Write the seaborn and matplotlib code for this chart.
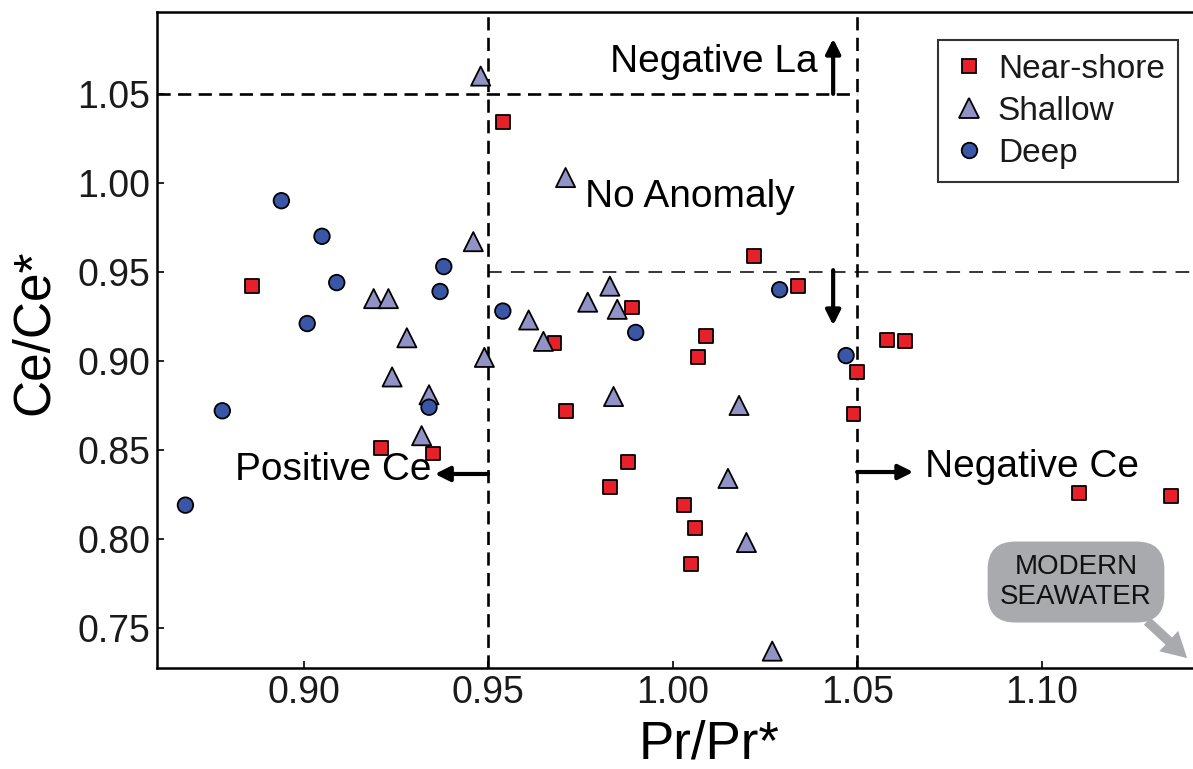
import pandas as pd
import matplotlib.pyplot as plt
import seaborn as sns

# Pr/Pr* and Ce/Ce*
near_x = [0.954, 0.886, 1.022, 1.034, 0.989, 1.009, 0.968, 1.058, 1.063, 1.007, 1.050,
          0.971, 1.049, 0.988, 0.983, 1.003, 1.006, 1.005, 0.921, 0.935, 1.110, 1.135]
near_y = [1.034, 0.942, 0.959, 0.942, 0.930, 0.914, 0.910, 0.912, 0.911, 0.902, 0.894,
          0.872, 0.870, 0.843, 0.829, 0.819, 0.806, 0.786, 0.851, 0.848, 0.826, 0.824]

shallow_x = [0.948, 0.946, 0.919, 0.923, 0.961, 0.928, 0.965, 0.971, 0.983, 0.977,
             0.985, 0.984, 1.018, 1.015, 1.020, 1.027, 0.949, 0.924, 0.934, 0.932]
shallow_y = [1.060, 0.967, 0.935, 0.935, 0.923, 0.913, 0.911, 1.003, 0.942, 0.933,
             0.929, 0.880, 0.875, 0.834, 0.798, 0.737, 0.902, 0.891, 0.881, 0.858]

deep_x = [0.894, 0.905, 0.938, 0.909, 0.937, 0.901, 0.954, 1.029, 0.990, 1.047,
          0.934, 0.878, 0.868]
deep_y = [0.990, 0.970, 0.953, 0.944, 0.939, 0.921, 0.928, 0.940, 0.916, 0.903,
          0.874, 0.872, 0.819]

groups = ['Near-shore', 'Shallow', 'Deep']

df = pd.concat([
    pd.DataFrame({'pr': near_x, 'ce': near_y, 'group': 'Near-shore'}),
    pd.DataFrame({'pr': shallow_x, 'ce': shallow_y, 'group': 'Shallow'}),
    pd.DataFrame({'pr': deep_x, 'ce': deep_y, 'group': 'Deep'}),
])

sns.set_theme(style='white')
plt.rcParams['font.family'] = ['Liberation Sans', 'DejaVu Sans']
plt.rcParams['text.color'] = 'black'
plt.rcParams['axes.labelcolor'] = 'black'

fig = plt.figure(figsize=(11.93, 7.69), dpi=100)
ax = fig.add_axes([0.1316, 0.1313, 0.8684, 0.8531])

palette = {'Near-shore': '#e8202a', 'Shallow': '#9292c6', 'Deep': '#3a57a7'}
markers = {'Near-shore': 's', 'Shallow': '^', 'Deep': 'o'}
sizes = {'Near-shore': 100, 'Shallow': 190, 'Deep': 125}

sns.scatterplot(data=df, x='pr', y='ce', hue='group', style='group', size='group',
                hue_order=groups, style_order=groups, size_order=groups,
                palette=palette, markers=markers, sizes=sizes,
                edgecolor='black', linewidth=1.3, ax=ax, zorder=3)

x0, x1 = 0.8603, 1.141
y0, y1 = 0.7275, 1.096
ax.set_xlim(x0, x1)
ax.set_ylim(y0, y1)

# anomaly boundaries
dash = dict(color='black', lw=1.9, linestyle=(0, (5, 2.8)), zorder=1)
ax.vlines([0.95, 1.05], y0, y1, **dash)
ax.hlines(1.05, x0, 1.05, **dash)
ax.hlines(0.95, 0.95, x1, color='black', lw=1.1, linestyle=(0, (9, 6)), zorder=1)

arrow = dict(arrowstyle='-|>', lw=3, color='black', mutation_scale=22, shrinkA=0, shrinkB=0)
ax.annotate('', xy=(1.0435, 1.081), xytext=(1.0435, 1.050), arrowprops=arrow)
ax.annotate('', xy=(1.0435, 0.920), xytext=(1.0435, 0.951), arrowprops=arrow)
ax.annotate('', xy=(0.9356, 0.8365), xytext=(0.950, 0.8365), arrowprops=arrow)
ax.annotate('', xy=(1.0652, 0.8376), xytext=(1.050, 0.8376), arrowprops=arrow)

ax.text(1.0394, 1.068, 'Negative La', fontsize=28, ha='right', va='center')
ax.text(0.9763, 0.992, 'No Anomaly', fontsize=28, ha='left', va='center')
ax.text(0.9348, 0.8388, 'Positive Ce', fontsize=28, ha='right', va='center')
ax.text(1.0684, 0.8404, 'Negative Ce', fontsize=28, ha='left', va='center')

ax.annotate('MODERN\nSEAWATER', xy=(1.1394, 0.7331), xytext=(1.1093, 0.7758),
            ha='center', va='center', fontsize=20, linespacing=1.2, color='#111111',
            bbox=dict(boxstyle='round,pad=0.45,rounding_size=1.0', fc='#a8aaad', ec='none'),
            arrowprops=dict(arrowstyle='simple,head_length=0.9,head_width=1.0,tail_width=0.35',
                            fc='#a8aaad', ec='none', relpos=(0.85, 0.1), shrinkA=0, shrinkB=0))

ax.set_xticks([0.90, 0.95, 1.00, 1.05, 1.10])
ax.set_yticks([0.75, 0.80, 0.85, 0.90, 0.95, 1.00, 1.05])
ax.set_xticklabels(['0.90', '0.95', '1.00', '1.05', '1.10'])
ax.set_yticklabels(['0.75', '0.80', '0.85', '0.90', '0.95', '1.00', '1.05'])
ax.tick_params(axis='both', direction='in', length=5, width=1.2, colors='black',
               labelsize=27, labelcolor='#1a1a1a', left=True, bottom=True, pad=5)

for side in ['left', 'bottom', 'top']:
    ax.spines[side].set_color('black')
    ax.spines[side].set_linewidth(1.8)
ax.spines['right'].set_visible(False)

ax.set_xlabel('Pr/Pr*', fontsize=38)
ax.set_ylabel('Ce/Ce*', fontsize=37)
ax.xaxis.set_label_coords(0.533, -0.078)
ax.yaxis.set_label_coords(-0.095, 0.512)

leg = ax.legend(loc='upper right', bbox_to_anchor=(0.9855, 0.957), borderaxespad=0,
                fontsize=24, frameon=True, fancybox=False, edgecolor='black',
                labelspacing=0.33, handletextpad=0.3, borderpad=0.4, handlelength=1.1)
leg.get_frame().set_linewidth(1.5)
for t in leg.get_texts():
    t.set_color('#1a1a1a')

fig.savefig('out.png', dpi=100)
